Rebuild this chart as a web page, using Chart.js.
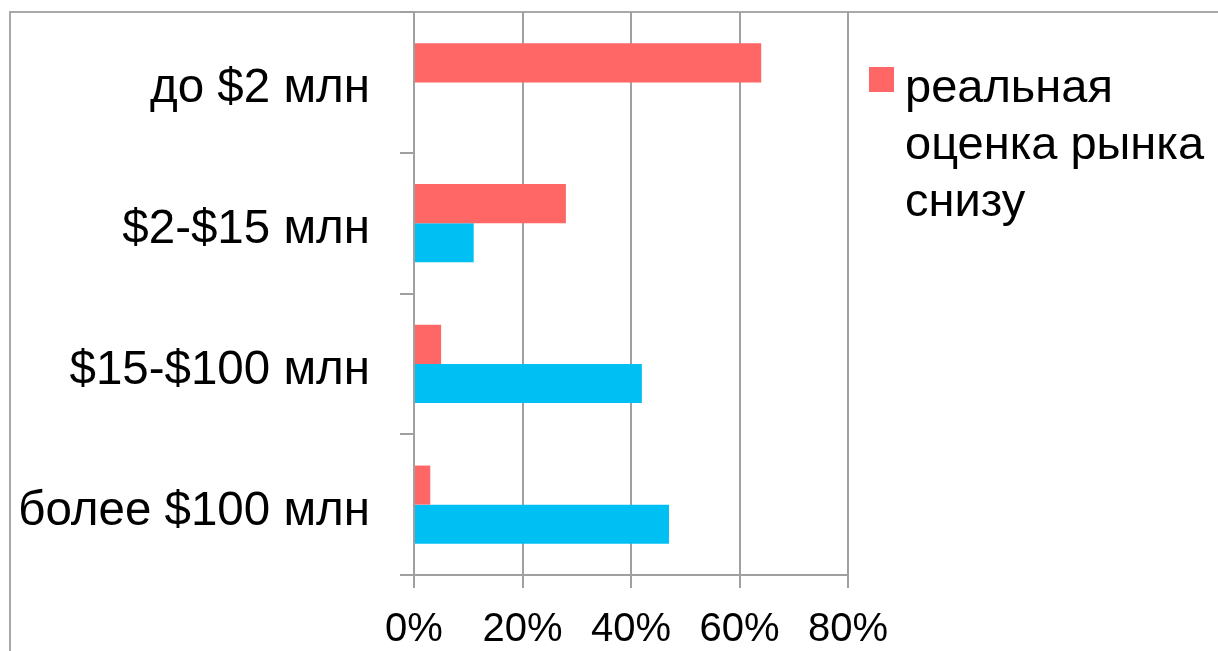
<!DOCTYPE html>
<html>
<head>
<meta charset="utf-8">
<script src="https://cdn.jsdelivr.net/npm/chart.js@4/dist/chart.umd.min.js"></script>
<style>
  html, body { margin: 0; padding: 0; background: #fff; overflow: hidden; }
  canvas { display: block; }
</style>
</head>
<body>
<canvas id="c" width="1218" height="651"></canvas>
<script>
// Deal-size buckets (top to bottom)
const categories = ['до $2 млн', '$2-$15 млн', '$15-$100 млн', 'более $100 млн'];
// Share of deals, %
const lowerEstimate = [64, 28, 5, 3];
const secondSeries = [0, 11, 42, 47];
// Value axis ticks, %
const tickValues = [0, 20, 40, 60, 80];
const seriesNames = ['реальная оценка рынка снизу', 'Ряд 2'];

const RED = '#ff6666';
const BLUE = '#00bff3';
const GRID = '#a0a0a0';
const FONT = '"Liberation Sans", Arial, sans-serif';

Chart.defaults.font.family = FONT;
Chart.defaults.color = '#000';

// Outer frame of the chart object
const framePlugin = {
  id: 'frame',
  beforeDraw(chart) {
    const ctx = chart.ctx;
    ctx.save();
    ctx.strokeStyle = '#a8a8a8';
    ctx.lineWidth = 2;
    ctx.beginPath();
    ctx.moveTo(10, chart.height + 5);
    ctx.lineTo(10, 12);
    ctx.lineTo(chart.width + 5, 12);
    ctx.stroke();
    ctx.restore();
  }
};

// Legend showing only the first series, with wrapped text
const sideLegend = {
  id: 'sideLegend',
  afterDraw(chart) {
    const ctx = chart.ctx;
    const ds = chart.data.datasets[0];
    const x0 = 869, y0 = 67, box = 25;
    const textX = 905, maxW = 313, lineH = 57, size = 47;
    ctx.save();
    ctx.fillStyle = ds.backgroundColor;
    ctx.fillRect(x0, y0, box, box);
    ctx.font = size + 'px ' + FONT;
    ctx.fillStyle = '#000';
    ctx.textBaseline = 'middle';
    ctx.textAlign = 'left';
    const words = ds.label.split(' ');
    const lines = [];
    let cur = '';
    for (const w of words) {
      const t = cur ? cur + ' ' + w : w;
      if (cur && ctx.measureText(t).width > maxW) { lines.push(cur); cur = w; }
      else cur = t;
    }
    if (cur) lines.push(cur);
    lines.forEach((ln, i) => ctx.fillText(ln, textX, 89 + i * lineH));
    ctx.restore();
  }
};

new Chart(document.getElementById('c'), {
  type: 'bar',
  data: {
    labels: categories,
    datasets: [
      { label: seriesNames[0], data: lowerEstimate, backgroundColor: RED },
      { label: seriesNames[1], data: secondSeries, backgroundColor: BLUE }
    ]
  },
  options: {
    indexAxis: 'y',
    responsive: false,
    animation: false,
    categoryPercentage: 0.555,
    barPercentage: 1,
    layout: { padding: { left: 0, top: 12, right: 370, bottom: 0 } },
    plugins: {
      legend: { display: false },
      tooltip: { enabled: false }
    },
    scales: {
      x: {
        min: 0,
        max: 80,
        afterBuildTicks: ax => { ax.ticks = tickValues.map(v => ({ value: v })); },
        ticks: {
          callback: v => v + '%',
          font: { size: 40 },
          padding: 18,
          maxRotation: 0,
          autoSkip: false
        },
        grid: { color: GRID, lineWidth: 2, tickLength: 13 },
        border: { display: true, color: GRID, width: 2 },
        afterFit: s => { s.height = 76; s.paddingLeft = 0; s.paddingRight = 0; }
      },
      y: {
        ticks: { font: { size: 47.5 }, padding: 30, labelOffset: 7 },
        grid: { offset: true, drawOnChartArea: false, color: GRID, lineWidth: 2, tickLength: 14 },
        border: { display: true, color: GRID, width: 2 },
        afterFit: s => { s.width = 414; s.paddingTop = 0; s.paddingBottom = 0; }
      }
    }
  },
  plugins: [framePlugin, sideLegend]
});
</script>
</body>
</html>
